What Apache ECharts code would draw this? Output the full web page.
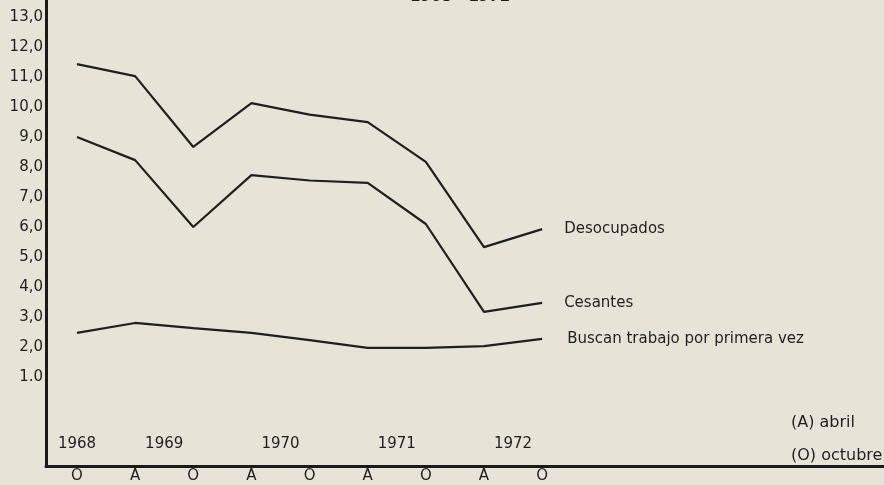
<!DOCTYPE html>
<html>
<head>
<meta charset="utf-8">
<script src="https://cdn.jsdelivr.net/npm/echarts@6/dist/echarts.min.js"></script>
<style>
html,body{margin:0;padding:0;background:#e7e4d7;}
#c{width:884px;height:485px;}
</style>
</head>
<body>
<div id="c"></div>
<script>
// Periods: O = octubre, A = abril (Oct 1968 ... Oct 1972)
var periods = ['O','A','O','A','O','A','O','A','O'];
var desocupados = [11.43, 11.03, 8.67, 10.13, 9.75, 9.5, 8.17, 5.33, 5.93];
var cesantes    = [9.0, 8.23, 6.0, 7.73, 7.55, 7.47, 6.1, 3.17, 3.47];
var buscan      = [2.47, 2.8, 2.63, 2.47, 2.23, 1.97, 1.97, 2.03, 2.27];
var yTickValues = [1,2,3,4,5,6,7,8,9,10,11,12,13];
var yTickLabels = ['1.0','2,0','3,0','4,0','5,0','6,0','7,0','8,0','9,0','10,0','11,0','12,0','13,0'];
var years = ['1968','1969','1970','1971','1972'];
var yearPos = [0, 1.5, 3.5, 5.5, 7.5];
var seriesNames = ['Desocupados','Cesantes','Buscan trabajo por primera vez'];
var notes = ['(A) abril','(O) octubre'];
var title = '1968 - 1972';

var FONT = '"DejaVu Sans", sans-serif';
var INK = '#1f1f1f';

function pts(arr){ return arr.map(function(v,i){ return [i, v]; }); }

var chart = echarts.init(document.getElementById('c'), null, {renderer:'canvas'});
var lineStyle = {color: INK, width: 2.2};
function mkLine(name, data, dx){
  return {
    type:'line', name:name, data:pts(data), symbol:'none', smooth:false,
    lineStyle:lineStyle, silent:true,
    endLabel:{show:true, formatter:name, color:INK, fontFamily:FONT, fontSize:15, distance:dx}
  };
}
chart.setOption({
  backgroundColor:'#e7e4d7',
  animation:false,
  grid:{left:46, right:0, top:0, bottom:19, containLabel:false},
  xAxis:[{
    type:'value', min:-0.533, max:13.88,
    axisLine:{show:true, onZero:false, lineStyle:{color:'#1a1a1a', width:3}},
    axisTick:{show:false},
    splitLine:{show:false},
    axisLabel:{customValues:periods.map(function(p,i){return i;}), formatter:function(v){return periods[Math.round(v)];},
      color:INK, fontFamily:FONT, fontSize:15, margin:3}
  },{
    type:'value', min:-0.533, max:13.88, position:'bottom',
    axisLine:{show:false, onZero:false},
    axisTick:{show:false},
    splitLine:{show:false},
    axisLabel:{inside:true, customValues:yearPos, formatter:function(v){return years[yearPos.indexOf(v)];},
      color:INK, fontFamily:FONT, fontSize:15, margin:14}
  }],
  yAxis:{
    type:'value', min:-1.97, max:13.57,
    axisLine:{show:true, onZero:false, lineStyle:{color:'#1a1a1a', width:3}},
    axisTick:{show:false},
    splitLine:{show:false},
    axisLabel:{customValues:yTickValues, formatter:function(v){return yTickLabels[yTickValues.indexOf(Math.round(v))];},
      color:INK, fontFamily:FONT, fontSize:15, margin:3}
  },
  series:[
    mkLine(seriesNames[0], desocupados, 22),
    mkLine(seriesNames[1], cesantes, 22),
    mkLine(seriesNames[2], buscan, 25)
  ],
  graphic:[
    {type:'text', left:410, top:-10, style:{text:title, fill:INK, font:'bold 15px '+FONT}},
    {type:'text', left:791, top:415, style:{text:notes[0], fill:INK, font:'16px '+FONT}},
    {type:'text', left:791, top:448, style:{text:notes[1], fill:INK, font:'16px '+FONT}}
  ]
});
</script>
</body>
</html>
